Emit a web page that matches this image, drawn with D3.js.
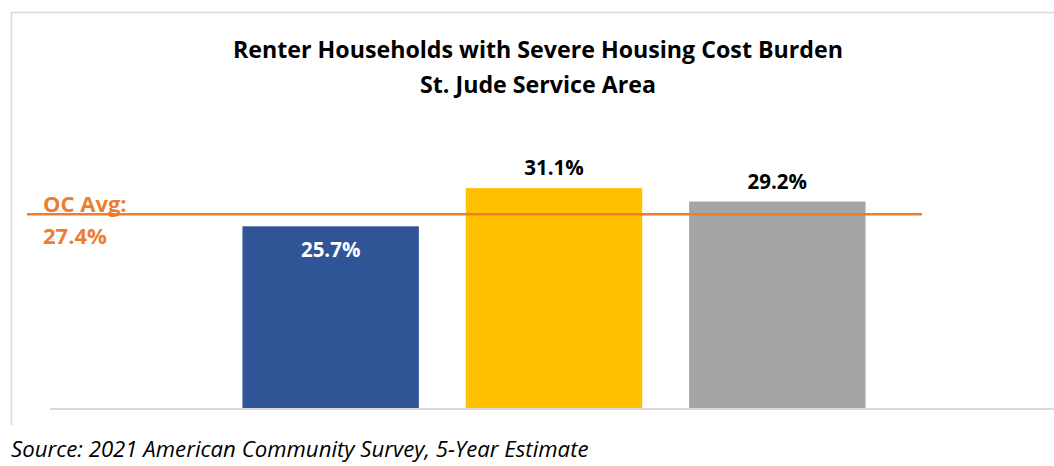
<!DOCTYPE html>
<html>
<head>
<meta charset="utf-8">
<script src="https://cdn.jsdelivr.net/npm/d3@7"></script>
<style>
  body { margin: 0; background: #fff; }
  text { font-family: "Open Sans", "Noto Sans", sans-serif; }
</style>
</head>
<body>
<div id="chart"></div>
<script>
// chart data
var categories = ["Area A", "Area B", "Area C"];
var values = [25.7, 31.1, 29.2];
var barColors = ["#2F5597", "#FFC000", "#A5A5A5"];
var labelInside = [true, false, false];
var avgValue = 27.4;
var titleLines = ["Renter Households with Severe Housing Cost Burden", "St. Jude Service Area"];
var avgLines = ["OC Avg:", "27.4%"];
var sourceText = "Source: 2021 American Community Survey, 5-Year Estimate";

var width = 1054, height = 466;
var baseY = 408;

var svg = d3.select("#chart").append("svg")
    .attr("width", width)
    .attr("height", height);

// frame lines of the chart box
svg.append("line")
    .attr("x1", 11.5).attr("x2", 11.5)
    .attr("y1", 12).attr("y2", 425)
    .attr("stroke", "#d9d9d9").attr("stroke-width", 1.5);
svg.append("line")
    .attr("x1", 11).attr("x2", width)
    .attr("y1", 12.5).attr("y2", 12.5)
    .attr("stroke", "#d9d9d9").attr("stroke-width", 1.5);

var x = d3.scaleBand()
    .domain(categories)
    .range([219, 889])
    .paddingInner(0.21)
    .paddingOuter(0.105);

var y = d3.scaleLinear()
    .domain([0, 35])
    .range([baseY, baseY - 35 * 7.07]);

// title
svg.selectAll(".title").data(titleLines).enter()
    .append("text")
    .attr("class", "title")
    .attr("x", 538)
    .attr("y", function(d, i) { return 58 + i * 35; })
    .attr("text-anchor", "middle")
    .attr("font-size", 23.2)
    .attr("font-weight", "bold")
    .attr("fill", "#000")
    .text(function(d) { return d; });

// bars
svg.selectAll(".bar").data(values).enter()
    .append("rect")
    .attr("class", "bar")
    .attr("x", function(d, i) { return x(categories[i]); })
    .attr("y", function(d) { return y(d); })
    .attr("width", x.bandwidth())
    .attr("height", function(d) { return baseY - y(d); })
    .attr("fill", function(d, i) { return barColors[i]; });

// baseline
svg.append("line")
    .attr("x1", 50).attr("x2", width)
    .attr("y1", baseY + 1).attr("y2", baseY + 1)
    .attr("stroke", "#d9d9d9").attr("stroke-width", 2);

// average line
svg.append("line")
    .attr("x1", 27).attr("x2", 922)
    .attr("y1", y(avgValue)).attr("y2", y(avgValue))
    .attr("stroke", "#ED7D31").attr("stroke-width", 2.5);

svg.selectAll(".avg").data(avgLines).enter()
    .append("text")
    .attr("class", "avg")
    .attr("x", 43)
    .attr("y", function(d, i) { return 212 + i * 32; })
    .attr("font-size", 22)
    .attr("font-weight", "bold")
    .attr("fill", "#ED7D31")
    .text(function(d) { return d; });

// value labels
svg.selectAll(".val").data(values).enter()
    .append("text")
    .attr("class", "val")
    .attr("x", function(d, i) { return x(categories[i]) + x.bandwidth() / 2; })
    .attr("y", function(d, i) { return labelInside[i] ? y(d) + 31 : y(d) - 13; })
    .attr("text-anchor", "middle")
    .attr("font-size", 20.5)
    .attr("font-weight", "bold")
    .attr("fill", function(d, i) { return labelInside[i] ? "#fff" : "#000"; })
    .text(function(d) { return d.toFixed(1) + "%"; });

// source note
svg.append("text")
    .attr("x", 11)
    .attr("y", 457)
    .attr("font-size", 22.2)
    .attr("font-style", "italic")
    .attr("fill", "#000")
    .text(sourceText);
</script>
</body>
</html>
